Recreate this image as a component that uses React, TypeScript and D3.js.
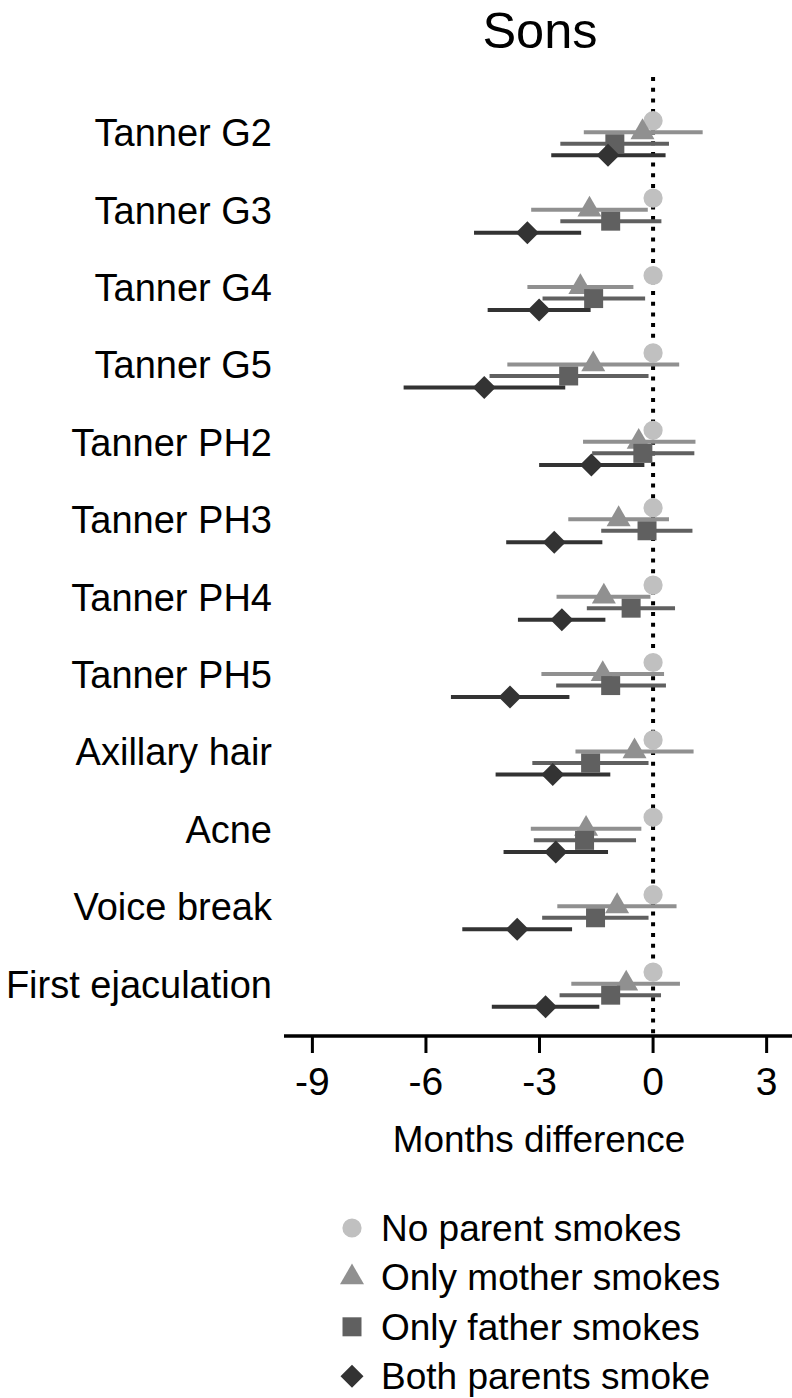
import { useMemo } from 'react';
import * as d3 from 'd3';

const categories = [
  'Tanner G2',
  'Tanner G3',
  'Tanner G4',
  'Tanner G5',
  'Tanner PH2',
  'Tanner PH3',
  'Tanner PH4',
  'Tanner PH5',
  'Axillary hair',
  'Acne',
  'Voice break',
  'First ejaculation',
];

const seriesNames = ['No parent smokes', 'Only mother smokes', 'Only father smokes', 'Both parents smoke'];

// point estimates (months difference), one value per category
const noParent = [0, 0, 0, 0, 0, 0, 0, 0, 0, 0, 0, 0];
const onlyMother = [-0.28, -1.68, -1.92, -1.58, -0.38, -0.91, -1.3, -1.33, -0.49, -1.77, -0.95, -0.71];
const onlyFather = [-1.01, -1.12, -1.57, -2.23, -0.27, -0.16, -0.58, -1.12, -1.65, -1.81, -1.52, -1.12];
const bothParents = [-1.19, -3.32, -3.01, -4.46, -1.63, -2.61, -2.41, -3.78, -2.65, -2.57, -3.59, -2.84];

// 95% CI lower / upper
const motherLow = [-1.83, -3.22, -3.32, -3.85, -1.85, -2.24, -2.55, -2.95, -2.05, -3.23, -2.53, -2.16];
const motherHigh = [1.31, -0.14, -0.52, 0.69, 1.12, 0.42, -0.07, 0.29, 1.07, -0.31, 0.62, 0.71];
const fatherLow = [-2.45, -2.45, -2.92, -4.32, -1.61, -1.37, -1.75, -2.56, -3.19, -3.15, -2.93, -2.47];
const fatherHigh = [0.42, 0.22, -0.21, -0.12, 1.09, 1.04, 0.58, 0.34, -0.12, -0.45, -0.12, 0.21];
const bothLow = [-2.69, -4.73, -4.37, -6.59, -3.01, -3.88, -3.57, -5.34, -4.16, -3.95, -5.04, -4.26];
const bothHigh = [0.33, -1.9, -1.65, -2.32, -0.23, -1.34, -1.26, -2.21, -1.13, -1.19, -2.14, -1.42];

const tickValues = [-9, -6, -3, 0, 3];

const FONT = 'Liberation Sans, Arial, Helvetica, sans-serif';

const series = [
  { name: seriesNames[0], est: noParent, low: noParent, high: noParent, color: '#c0c0c0', shape: 'circle' },
  { name: seriesNames[1], est: onlyMother, low: motherLow, high: motherHigh, color: '#909090', shape: 'triangle' },
  { name: seriesNames[2], est: onlyFather, low: fatherLow, high: fatherHigh, color: '#606060', shape: 'square' },
  { name: seriesNames[3], est: bothParents, low: bothLow, high: bothHigh, color: '#333333', shape: 'diamond' },
];

function symbolPath(shape: string) {
  if (shape === 'circle') return d3.symbol(d3.symbolCircle, 290)();
  if (shape === 'triangle') return d3.symbol(d3.symbolTriangle, 250)();
  if (shape === 'square') return d3.symbol(d3.symbolSquare, 361)();
  return d3.symbol(d3.symbolSquare, 265)(); // rotated -> diamond
}

function Marker({ shape, x, y, color }: { shape: string; x: number; y: number; color: string }) {
  const rot = shape === 'diamond' ? ' rotate(45)' : '';
  return <path d={symbolPath(shape) || ''} transform={`translate(${x},${y})${rot}`} fill={color} />;
}

export default function App() {
  const width = 792;
  const height = 1398;

  const x = useMemo(() => d3.scaleLinear().domain([-9.75, 3.67]).range([284, 792]), []);
  const y = useMemo(
    () => d3.scaleBand().domain(categories).range([99.3, 1028.1]).paddingInner(0).paddingOuter(0),
    []
  );
  const offset = useMemo(() => d3.scalePoint().domain(seriesNames).range([-17.3, 17.3]), []);

  const axisY = 1036;

  return (
    <svg
      width={width}
      height={height}
      style={{ position: 'absolute', left: 0, top: 0, background: '#fff' }}
      fontFamily={FONT}
    >
      <text x={540} y={48} textAnchor="middle" fontSize={50.5}>
        Sons
      </text>

      {/* row labels */}
      {categories.map((c) => (
        <text key={c} x={272} y={(y(c) || 0) + y.bandwidth() / 2 + 8.2} textAnchor="end" fontSize={38}>
          {c}
        </text>
      ))}

      {/* reference line at zero */}
      <line x1={x(0)} x2={x(0)} y1={77} y2={axisY} stroke="#000" strokeWidth={4} strokeDasharray="4 6.7" />

      {/* error bars and markers */}
      {series.map((s) => (
        <g key={s.name}>
          {categories.map((c, i) => {
            const cy = (y(c) || 0) + y.bandwidth() / 2 + (offset(s.name) || 0);
            return (
              <g key={c}>
                {s.low[i] !== s.high[i] && (
                  <line x1={x(s.low[i])} x2={x(s.high[i])} y1={cy} y2={cy} stroke={s.color} strokeWidth={4} />
                )}
                <Marker shape={s.shape} x={x(s.est[i])} y={cy} color={s.color} />
              </g>
            );
          })}
        </g>
      ))}

      {/* x axis */}
      <line x1={284} x2={792} y1={axisY} y2={axisY} stroke="#000" strokeWidth={3.5} />
      {tickValues.map((t) => (
        <g key={t}>
          <line x1={x(t)} x2={x(t)} y1={axisY} y2={axisY + 17} stroke="#000" strokeWidth={3} />
          <text x={x(t)} y={1095} textAnchor="middle" fontSize={39}>
            {t}
          </text>
        </g>
      ))}
      <text x={539} y={1152} textAnchor="middle" fontSize={36.9}>
        Months difference
      </text>

      {/* legend */}
      {series.map((s, i) => {
        const ly = 1228 + i * 49.4;
        return (
          <g key={s.name}>
            <Marker shape={s.shape} x={352} y={ly} color={s.color} />
            <text x={381} y={ly + 13} fontSize={37}>
              {s.name}
            </text>
          </g>
        );
      })}
    </svg>
  );
}
